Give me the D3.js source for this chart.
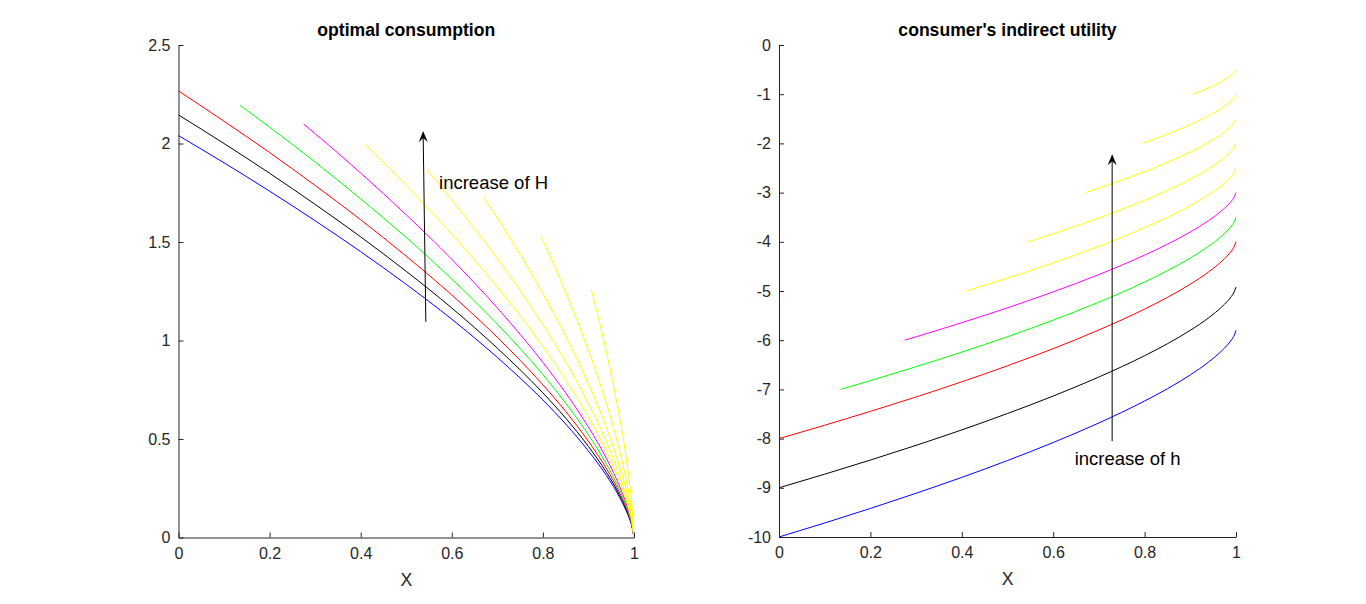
<!DOCTYPE html>
<html>
<head>
<meta charset="utf-8">
<script src="https://cdn.jsdelivr.net/npm/d3@7"></script>
<style>
  body { margin: 0; background: #fff; }
  svg { display: block; font-family: Arial, "Liberation Sans", sans-serif; }
</style>
</head>
<body>
<svg width="1366" height="604"></svg>
<script>
// optimal consumption curves, [X, c]
const consBlue = [[0,2.04],[0.1,1.902],[0.2,1.758],[0.3,1.608],[0.4,1.451],[0.5,1.285],[0.6,1.108],[0.7,0.914],[0.8,0.698],[0.85,0.576],[0.9,0.439],[0.94,0.313],[0.97,0.197],[0.98,0.150],[0.99,0.095],[0.995,0.060],[1,0]];
const consBlack = [[0,2.145],[0.1,2.0],[0.2,1.849],[0.3,1.691],[0.4,1.526],[0.5,1.351],[0.6,1.165],[0.7,0.961],[0.8,0.734],[0.85,0.606],[0.9,0.462],[0.94,0.329],[0.97,0.207],[0.98,0.158],[0.99,0.100],[0.995,0.063],[1,0]];
const consRed = [[0,2.267],[0.1,2.113],[0.2,1.954],[0.3,1.787],[0.4,1.613],[0.5,1.428],[0.6,1.231],[0.7,1.016],[0.8,0.775],[0.85,0.640],[0.9,0.488],[0.94,0.348],[0.97,0.219],[0.98,0.167],[0.99,0.105],[0.995,0.066],[1,0]];
const consGreen = [[0.135,2.194],[0.2,2.083],[0.3,1.906],[0.4,1.719],[0.5,1.523],[0.6,1.312],[0.7,1.083],[0.8,0.827],[0.85,0.682],[0.9,0.521],[0.94,0.371],[0.97,0.233],[0.98,0.178],[0.99,0.112],[0.995,0.071],[1,0]];
const consMagenta = [[0.275,2.098],[0.3,2.05],[0.4,1.85],[0.5,1.638],[0.6,1.412],[0.7,1.165],[0.8,0.889],[0.85,0.734],[0.9,0.560],[0.94,0.399],[0.97,0.251],[0.98,0.192],[0.99,0.121],[0.995,0.076],[1,0]];
const consYellow1 = [[0.41,1.996],[0.5,1.787],[0.6,1.54],[0.7,1.271],[0.8,0.970],[0.85,0.801],[0.9,0.611],[0.94,0.435],[0.97,0.274],[0.98,0.209],[0.99,0.132],[0.995,0.083],[1,0]];
const consYellow2 = [[0.546,1.865],[0.6,1.714],[0.7,1.415],[0.8,1.080],[0.85,0.892],[0.9,0.680],[0.94,0.484],[0.97,0.305],[0.98,0.233],[0.99,0.147],[0.995,0.092],[1,0]];
const consYellow3 = [[0.671,1.725],[0.7,1.622],[0.8,1.238],[0.85,1.022],[0.9,0.780],[0.94,0.555],[0.97,0.349],[0.98,0.267],[0.99,0.168],[0.995,0.106],[1,0]];
const consYellow4 = [[0.796,1.528],[0.8,1.508],[0.85,1.245],[0.9,0.950],[0.94,0.676],[0.97,0.426],[0.98,0.325],[0.99,0.205],[0.995,0.129],[1,0]];
const consYellow5 = [[0.906,1.261],[0.94,0.935],[0.97,0.589],[0.98,0.450],[0.99,0.283],[0.995,0.178],[1,0]];

// consumer's indirect utility curves, [X, v]
const utilBlue = [[0,-10],[0.1,-9.715],[0.2,-9.42],[0.3,-9.111],[0.4,-8.788],[0.5,-8.446],[0.6,-8.08],[0.7,-7.682],[0.8,-7.236],[0.85,-6.986],[0.9,-6.705],[0.94,-6.444],[0.97,-6.205],[0.98,-6.11],[0.99,-5.995],[0.995,-5.923],[1,-5.8]];
const utilBlack = [[0,-9],[0.1,-8.723],[0.2,-8.436],[0.3,-8.137],[0.4,-7.823],[0.5,-7.49],[0.6,-7.135],[0.7,-6.748],[0.8,-6.315],[0.85,-6.072],[0.9,-5.799],[0.94,-5.545],[0.97,-5.314],[0.98,-5.221],[0.99,-5.109],[0.995,-5.039],[1,-4.92]];
const utilRed = [[0,-8],[0.1,-7.729],[0.2,-7.447],[0.3,-7.154],[0.4,-6.846],[0.5,-6.52],[0.6,-6.172],[0.7,-5.792],[0.8,-5.368],[0.85,-5.129],[0.9,-4.862],[0.94,-4.613],[0.97,-4.386],[0.98,-4.295],[0.99,-4.186],[0.995,-4.117],[1,-4]];
const utilGreen = [[0.135,-7],[0.2,-6.822],[0.3,-6.539],[0.4,-6.242],[0.5,-5.929],[0.6,-5.593],[0.7,-5.227],[0.8,-4.818],[0.85,-4.588],[0.9,-4.33],[0.94,-4.091],[0.97,-3.872],[0.98,-3.784],[0.99,-3.679],[0.995,-3.613],[1,-3.5]];
const utilMagenta = [[0.275,-6],[0.3,-5.93],[0.4,-5.644],[0.5,-5.342],[0.6,-5.018],[0.7,-4.666],[0.8,-4.271],[0.85,-4.049],[0.9,-3.801],[0.94,-3.57],[0.97,-3.359],[0.98,-3.274],[0.99,-3.172],[0.995,-3.109],[1,-3]];
const utilYellow1 = [[0.41,-5],[0.5,-4.739],[0.6,-4.429],[0.7,-4.093],[0.8,-3.715],[0.85,-3.503],[0.9,-3.266],[0.94,-3.045],[0.97,-2.843],[0.98,-2.762],[0.99,-2.665],[0.995,-2.604],[1,-2.5]];
const utilYellow2 = [[0.546,-4],[0.6,-3.838],[0.7,-3.517],[0.8,-3.158],[0.85,-2.956],[0.9,-2.729],[0.94,-2.519],[0.97,-2.327],[0.98,-2.25],[0.99,-2.157],[0.995,-2.099],[1,-2]];
const utilYellow3 = [[0.671,-3],[0.7,-2.91],[0.8,-2.576],[0.85,-2.388],[0.9,-2.178],[0.94,-1.982],[0.97,-1.804],[0.98,-1.732],[0.99,-1.646],[0.995,-1.592],[1,-1.5]];
const utilYellow4 = [[0.796,-2],[0.8,-1.987],[0.85,-1.814],[0.9,-1.621],[0.94,-1.442],[0.97,-1.278],[0.98,-1.213],[0.99,-1.134],[0.995,-1.084],[1,-1]];
const utilYellow5 = [[0.906,-1],[0.94,-0.871],[0.97,-0.733],[0.98,-0.678],[0.99,-0.612],[0.995,-0.571],[1,-0.5]];

const curveColors = ['#0000ff', '#000000', '#ff0000', '#00ff00', '#ff00ff', '#ffff00', '#ffff00', '#ffff00', '#ffff00', '#ffff00'];

const xTicks = [0, 0.2, 0.4, 0.6, 0.8, 1];
const consTicks = [0, 0.5, 1, 1.5, 2, 2.5];
const utilTicks = [0, -1, -2, -3, -4, -5, -6, -7, -8, -9, -10];

// arrows: [x, y] tail and head in data units
const consArrow = [[0.543, 1.095], [0.537, 2.063]];
const utilArrow = [[0.729, -8.05], [0.729, -2.22]];

const svg = d3.select('svg');
const axisColor = '#262626';

function drawPanel(opts) {
    const { left, right, top, bottom, yDomain, yTicks, series, title, arrow, note, noteAt } = opts;

    const xScale = d3.scaleLinear().domain([0, 1]).range([left, right]);
    const yScale = d3.scaleLinear().domain(yDomain).range([bottom, top]);

    const g = svg.append('g');

    // curves
    const line = d3.line()
        .x(d => xScale(d[0]))
        .y(d => yScale(d[1]))
        .curve(d3.curveMonotoneX);

    g.selectAll('path.curve')
        .data(series)
        .join('path')
        .attr('class', 'curve')
        .attr('fill', 'none')
        .attr('stroke', (d, i) => curveColors[i])
        .attr('stroke-width', 1)
        .attr('d', d => line(d));

    // axes, ticks pointing inward like matlab; plain hyphen for negatives
    const fmt = d => String(d);

    const xAxis = d3.axisBottom(xScale)
        .tickValues(xTicks)
        .tickFormat(fmt)
        .tickSizeInner(-5)
        .tickSizeOuter(0)
        .tickPadding(10);

    const yAxis = d3.axisLeft(yScale)
        .tickValues(yTicks)
        .tickFormat(fmt)
        .tickSizeInner(-5)
        .tickSizeOuter(0)
        .tickPadding(8);

    const xAxisG = g.append('g')
        .attr('transform', `translate(0,${bottom})`)
        .call(xAxis);
    const yAxisG = g.append('g')
        .attr('transform', `translate(${left},0)`)
        .call(yAxis);

    [xAxisG, yAxisG].forEach(a => {
        a.attr('font-size', 16).attr('font-family', null);
        a.select('.domain').attr('stroke', axisColor);
        a.selectAll('.tick line').attr('stroke', axisColor);
        a.selectAll('.tick text').attr('fill', axisColor);
    });
    xAxisG.selectAll('.tick text').attr('dy', '0.71em');

    xAxisG.append('text')
        .attr('x', (left + right) / 2)
        .attr('y', 48)
        .attr('fill', axisColor)
        .attr('font-size', 17.6)
        .attr('text-anchor', 'middle')
        .text('X');

    g.append('text')
        .attr('x', (left + right) / 2)
        .attr('y', 36)
        .attr('font-size', 17.6)
        .attr('font-weight', 'bold')
        .attr('text-anchor', 'middle')
        .attr('fill', '#000')
        .text(title);

    // arrow annotation
    const x1 = xScale(arrow[0][0]), y1 = yScale(arrow[0][1]);
    const x2 = xScale(arrow[1][0]), y2 = yScale(arrow[1][1]);
    const ang = Math.atan2(y2 - y1, x2 - x1);
    const headLen = 11, headHalf = 4.5, notch = 7;
    const pt = (along, across) => [
        x2 - along * Math.cos(ang) - across * Math.sin(ang),
        y2 - along * Math.sin(ang) + across * Math.cos(ang)
    ];
    const back = pt(notch, 0);
    g.append('line')
        .attr('x1', x1).attr('y1', y1)
        .attr('x2', back[0]).attr('y2', back[1])
        .attr('stroke', '#000')
        .attr('stroke-width', 1);
    g.append('path')
        .attr('d', d3.line()([[x2, y2], pt(headLen, headHalf), back, pt(headLen, -headHalf)]) + 'Z')
        .attr('fill', '#000');

    g.append('text')
        .attr('x', xScale(noteAt[0]))
        .attr('y', yScale(noteAt[1]))
        .attr('font-size', 18.5)
        .attr('fill', '#000')
        .text(note);
}

drawPanel({
    left: 178.5, right: 634, top: 45, bottom: 537.5,
    yDomain: [0, 2.5], yTicks: consTicks,
    series: [consBlue, consBlack, consRed, consGreen, consMagenta, consYellow1, consYellow2, consYellow3, consYellow4, consYellow5],
    title: 'optimal consumption',
    arrow: consArrow,
    note: 'increase of H',
    noteAt: [0.572, 1.77]
});

drawPanel({
    left: 779, right: 1236, top: 45, bottom: 537,
    yDomain: [-10, 0], yTicks: utilTicks,
    series: [utilBlue, utilBlack, utilRed, utilGreen, utilMagenta, utilYellow1, utilYellow2, utilYellow3, utilYellow4, utilYellow5],
    title: "consumer's indirect utility",
    arrow: utilArrow,
    note: 'increase of h',
    noteAt: [0.647, -8.54]
});
</script>
</body>
</html>
